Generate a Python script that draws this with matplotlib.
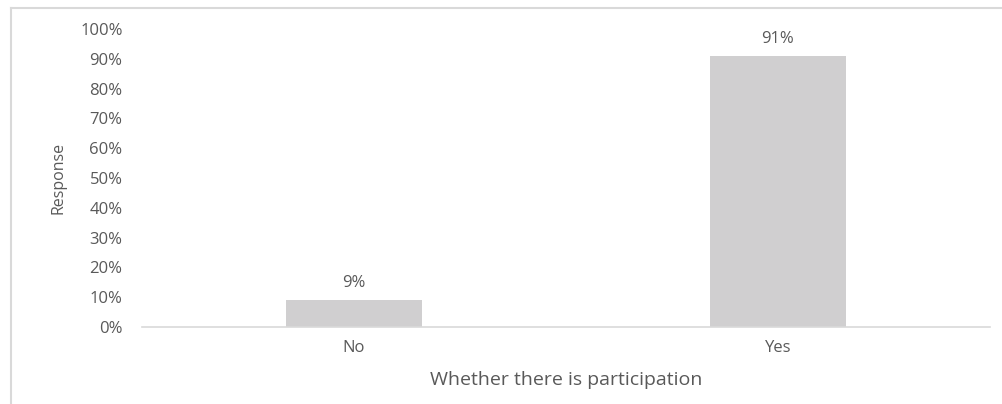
import matplotlib
matplotlib.use("Agg")
import matplotlib.pyplot as plt
from matplotlib.lines import Line2D

categories = ["No", "Yes"]
values = [9, 91]
labels = ["9%", "91%"]
yticks = [0, 10, 20, 30, 40, 50, 60, 70, 80, 90, 100]
ytick_labels = [f"{v}%" for v in yticks]

W, H = 1003, 404
fig = plt.figure(figsize=(W / 100, H / 100), dpi=100)
plt.rcParams['font.family'] = ['Open Sans', 'DejaVu Sans']
txt = '#595959'

# axes: x 142..990 px, y 327 (0%) .. 29 (100%)
ax = fig.add_axes([142 / W, 1 - 327 / H, (990 - 142) / W, (327 - 29) / H])
x = list(range(len(categories)))
ax.bar(x, values, width=0.32, color='#d0cfd0', zorder=2)
ax.set_xlim(-0.5, 1.5)
ax.set_ylim(0, 100)
ax.set_yticks(yticks)
ax.set_yticklabels(ytick_labels)
ax.set_xticks(x)
ax.set_xticklabels(categories)
for s in ['top', 'right', 'left']:
    ax.spines[s].set_visible(False)
ax.spines['bottom'].set_color('#d9d9d9')
ax.spines['bottom'].set_linewidth(1.2)
ax.tick_params(axis='both', length=0, colors=txt, labelsize=12)
ax.tick_params(axis='y', pad=14)
ax.tick_params(axis='x', pad=9)
for xi, v, lab in zip(x, values, labels):
    ax.text(xi, v + 3.0, lab, ha='center', va='bottom', color=txt, fontsize=12)
ax.set_xlabel("Whether there is participation", color=txt, fontsize=14, labelpad=11)
ax.set_ylabel("Response", color=txt, fontsize=11.5, labelpad=10)

# outer border lines (left and top)
fig.add_artist(Line2D([10.5 / W, 10.5 / W], [0, 1 - 7.5 / H], transform=fig.transFigure,
                      color='#d9d9d9', lw=1.5))
fig.add_artist(Line2D([10.5 / W, 1], [1 - 7.5 / H, 1 - 7.5 / H], transform=fig.transFigure,
                      color='#d9d9d9', lw=1.5))

fig.savefig("out.png", dpi=100, facecolor='white')
